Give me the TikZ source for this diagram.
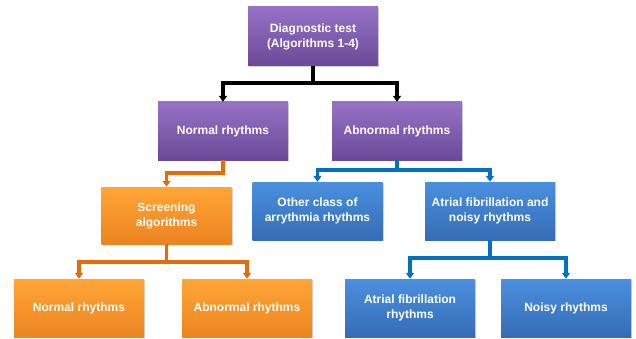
\documentclass[tikz,border=0pt]{standalone}
\usepackage{fontspec}
\setmainfont{Liberation Sans}
\usetikzlibrary{arrows.meta,shadows}
\definecolor{pTop}{HTML}{9672C6}
\definecolor{pBot}{HTML}{6A4A98}
\definecolor{oTop}{HTML}{FFA636}
\definecolor{oBot}{HTML}{EC8420}
\definecolor{bTop}{HTML}{4A90DE}
\definecolor{bBot}{HTML}{366CB6}
\definecolor{oLine}{HTML}{E46C0A}
\definecolor{bLine}{HTML}{0070C0}
\tikzset{
  box/.style={minimum width=130pt, minimum height=58pt, inner sep=2pt,
    align=center, text=white, font=\bfseries\fontsize{12}{15}\selectfont,
    drop shadow={shadow xshift=1.2pt, shadow yshift=-1.2pt, opacity=0.35, fill=gray}},
  purplebox/.style={box, top color=pTop, bottom color=pBot},
  orangebox/.style={box, top color=oTop, bottom color=oBot},
  bluebox/.style={box, top color=bTop, bottom color=bBot},
  conn/.style={line width=3.4pt, -{Triangle[length=6pt,width=8pt]}},
}
\begin{document}
\begin{tikzpicture}[x=1pt, y=-1pt]
\useasboundingbox (0,0) rectangle (636,339);

% purple level
\node[purplebox, minimum height=59pt] (diag) at (313,36.5) {Diagnostic test\\(Algorithms 1-4)};
\node[purplebox] (nr) at (223,131) {Normal rhythms};
\node[purplebox] (ar) at (397,131) {Abnormal rhythms};

% orange branch
\node[orangebox, minimum height=57pt] (scr) at (166.5,215.5) {Screening\\algorithms};
\node[orangebox] (snr) at (79,308) {Normal rhythms};
\node[orangebox] (sar) at (247,308) {Abnormal rhythms};

% blue branch
\node[bluebox] (oth) at (317.5,211) {Other class of\\arrythmia rhythms};
\node[bluebox] (afn) at (490,211) {Atrial fibrillation and\\noisy rhythms};
\node[bluebox] (afr) at (410,308) {Atrial fibrillation\\rhythms};
\node[bluebox] (noi) at (566,308) {Noisy rhythms};

% junction points
\coordinate (j1) at (313,83);
\coordinate (j2) at (223,173);
\coordinate (j3) at (397,170);
\coordinate (j4) at (166.5,262);
\coordinate (j5) at (490,258);

\draw[conn, black] (diag.south) -- (j1) -| (nr.north);
\draw[conn, black] (j1) -| (ar.north);

\draw[conn, oLine] (nr.south) -- (j2) -| (scr.north);
\draw[conn, oLine] (scr.south) -- (j4) -| (snr.north);
\draw[conn, oLine] (j4) -| (sar.north);

\draw[conn, bLine] (ar.south) -- (j3) -| (oth.north);
\draw[conn, bLine] (j3) -| (afn.north);
\draw[conn, bLine] (afn.south) -- (j5) -| (afr.north);
\draw[conn, bLine] (j5) -| (noi.north);
\end{tikzpicture}
\end{document}
